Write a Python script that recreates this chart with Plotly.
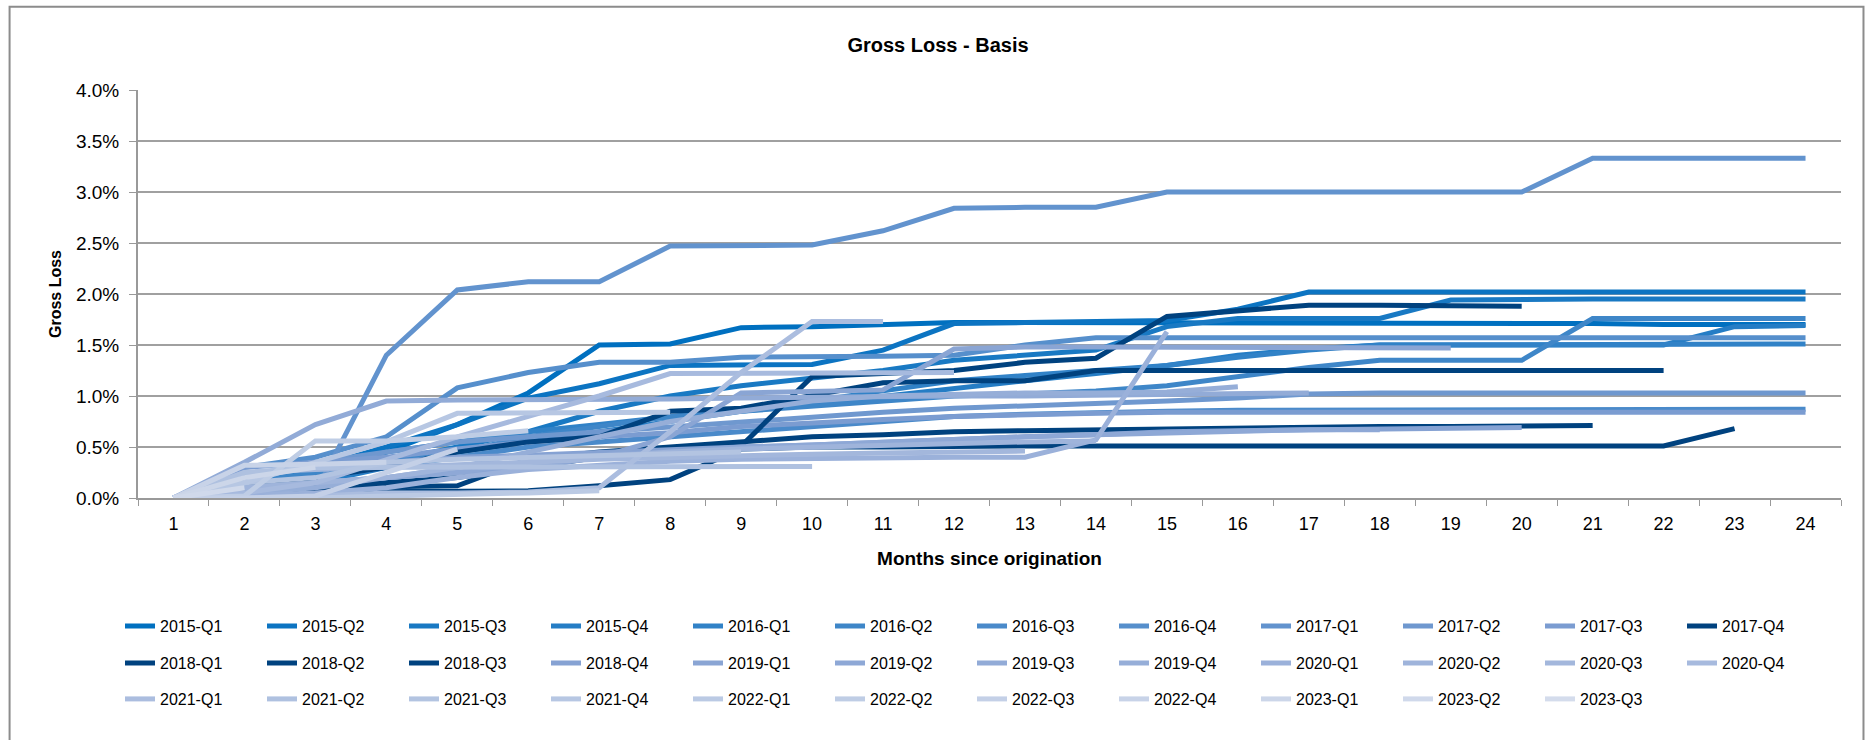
import plotly.graph_objects as go

months = [str(m) for m in range(1, 25)]

vintages = ["2015-Q1", "2015-Q2", "2015-Q3", "2015-Q4", "2016-Q1", "2016-Q2", "2016-Q3",
            "2016-Q4", "2017-Q1", "2017-Q2", "2017-Q3", "2017-Q4", "2018-Q1", "2018-Q2",
            "2018-Q3", "2018-Q4", "2019-Q1", "2019-Q2", "2019-Q3", "2019-Q4", "2020-Q1",
            "2020-Q2", "2020-Q3", "2020-Q4", "2021-Q1", "2021-Q2", "2021-Q3", "2021-Q4",
            "2022-Q1", "2022-Q2", "2022-Q3", "2022-Q4", "2023-Q1", "2023-Q2", "2023-Q3"]

# Gross loss in percent, one list per vintage (months since origination 1..n)
v2015_q1 = [0, 0.12, 0.25, 0.45, 0.72, 1.03, 1.50, 1.51, 1.67, 1.68, 1.70, 1.72, 1.72, 1.72, 1.72, 1.72, 1.72, 1.72, 1.71, 1.71, 1.71, 1.70, 1.70, 1.70]
v2015_q2 = [0, 0.15, 0.30, 0.50, 0.72, 0.98, 1.12, 1.30, 1.31, 1.31, 1.45, 1.71, 1.72, 1.73, 1.74, 1.85, 2.02, 2.02, 2.02, 2.02, 2.02, 2.02, 2.02, 2.02]
v2015_q3 = [0, 0.10, 0.20, 0.35, 0.50, 0.65, 0.85, 1.00, 1.10, 1.18, 1.25, 1.35, 1.40, 1.45, 1.68, 1.76, 1.76, 1.76, 1.94, 1.95, 1.95, 1.95, 1.95, 1.95]
v2015_q4 = [0, 0.05, 0.15, 0.30, 0.45, 0.55, 0.65, 0.75, 0.85, 0.92, 1.00, 1.08, 1.15, 1.22, 1.30, 1.40, 1.46, 1.50, 1.50, 1.50, 1.50, 1.50, 1.68, 1.69]
v2016_q1 = [0, 0.20, 0.30, 0.45, 0.55, 0.65, 0.72, 0.80, 0.88, 0.95, 1.05, 1.15, 1.20, 1.25, 1.30, 1.38, 1.45, 1.50, 1.50, 1.50, 1.50, 1.50, 1.51, 1.51]
v2016_q2 = [0, 0.15, 0.25, 0.35, 0.45, 0.60, 0.70, 0.80, 0.85, 0.90, 0.95, 1.00, 1.02, 1.05, 1.10, 1.19, 1.28, 1.35, 1.35, 1.35, 1.76, 1.76, 1.76, 1.76]
v2016_q3 = [0, 0.10, 0.20, 0.30, 0.40, 0.50, 0.55, 0.60, 0.65, 0.70, 0.75, 0.80, 0.82, 0.84, 0.85, 0.86, 0.86, 0.86, 0.87, 0.87, 0.87, 0.87, 0.87, 0.87]
v2016_q4 = [0, 0.30, 0.40, 0.60, 1.08, 1.23, 1.33, 1.33, 1.38, 1.38, 1.39, 1.40, 1.50, 1.57, 1.57, 1.57, 1.57, 1.57, 1.57, 1.57, 1.57, 1.57, 1.57, 1.57]
v2017_q1 = [0, 0.02, 0.05, 1.40, 2.04, 2.12, 2.12, 2.47, 2.48, 2.48, 2.62, 2.84, 2.85, 2.85, 3.00, 3.00, 3.00, 3.00, 3.00, 3.00, 3.33, 3.33, 3.33, 3.33]
v2017_q2 = [0, 0.20, 0.35, 0.45, 0.55, 0.60, 0.65, 0.70, 0.75, 0.80, 0.84, 0.88, 0.90, 0.92, 0.95, 0.98, 1.02, 1.03, 1.03, 1.03, 1.03, 1.03, 1.03, 1.03]
v2017_q3 = [0, 0.30, 0.35, 0.40, 0.48, 0.55, 0.60, 0.64, 0.70, 0.74, 0.77, 0.80, 0.82, 0.83, 0.84, 0.84, 0.84, 0.84, 0.84, 0.84, 0.84, 0.84, 0.84, 0.84]
v2017_q4 = [0, 0.05, 0.06, 0.06, 0.07, 0.07, 0.12, 0.18, 0.48, 0.50, 0.50, 0.51, 0.51, 0.51, 0.51, 0.51, 0.51, 0.51, 0.51, 0.51, 0.51, 0.51, 0.68]
v2018_q1 = [0, 0.10, 0.20, 0.30, 0.45, 0.55, 0.60, 0.85, 0.88, 1.00, 1.13, 1.15, 1.15, 1.25, 1.25, 1.25, 1.25, 1.25, 1.25, 1.25, 1.25, 1.25]
v2018_q2 = [0, 0.10, 0.10, 0.11, 0.12, 0.38, 0.45, 0.50, 0.55, 0.60, 0.62, 0.65, 0.66, 0.67, 0.68, 0.69, 0.70, 0.70, 0.70, 0.71, 0.71]
v2018_q3 = [0, 0.05, 0.10, 0.15, 0.20, 0.30, 0.40, 0.45, 0.51, 1.19, 1.22, 1.25, 1.33, 1.37, 1.78, 1.84, 1.89, 1.89, 1.89, 1.88]
v2018_q4 = [0, 0.20, 0.30, 0.35, 0.40, 0.42, 0.45, 0.48, 0.50, 0.52, 0.55, 0.58, 0.60, 0.62, 0.65, 0.66, 0.67, 0.68, 0.69, 0.69]
v2019_q1 = [0, 0.10, 0.15, 0.20, 0.25, 0.30, 0.40, 0.60, 1.03, 1.04, 1.06, 1.46, 1.48, 1.48, 1.48, 1.48, 1.48, 1.48, 1.47]
v2019_q2 = [0, 0.10, 0.15, 0.20, 0.25, 0.35, 0.42, 0.45, 0.50, 0.52, 0.55, 0.58, 0.60, 0.62, 0.64, 0.66, 0.67, 0.67]
v2019_q3 = [0, 0.35, 0.72, 0.95, 0.96, 0.96, 0.96, 0.97, 0.98, 0.99, 1.00, 1.00, 1.00, 1.01, 1.02, 1.02, 1.03]
v2019_q4 = [0, 0.05, 0.10, 0.20, 0.30, 0.45, 0.60, 0.75, 0.85, 0.95, 1.00, 1.02, 1.03, 1.03, 1.04, 1.09]
v2020_q1 = [0, 0.02, 0.05, 0.10, 0.20, 0.28, 0.32, 0.36, 0.38, 0.39, 0.40, 0.40, 0.40, 0.57, 1.63]
v2020_q2 = [0, 0.10, 0.15, 0.20, 0.30, 0.35, 0.40, 0.45, 0.48, 0.50, 0.52, 0.54, 0.55, 0.56]
v2020_q3 = [0, 0.25, 0.28, 0.30, 0.32, 0.35, 0.38, 0.40, 0.42, 0.43, 0.44, 0.45, 0.46]
v2020_q4 = [0, 0.05, 0.15, 0.37, 0.60, 0.80, 1.00, 1.22, 1.22, 1.23, 1.23, 1.23]
v2021_q1 = [0, 0.00, 0.02, 0.05, 0.05, 0.06, 0.10, 0.65, 1.23, 1.73, 1.73]
v2021_q2 = [0, 0.25, 0.30, 0.30, 0.30, 0.30, 0.30, 0.31, 0.31, 0.31]
v2021_q3 = [0, 0.15, 0.20, 0.35, 0.38, 0.40, 0.42, 0.44, 0.45]
v2021_q4 = [0, 0.15, 0.35, 0.55, 0.83, 0.83, 0.84, 0.84]
v2022_q1 = [0, 0.00, 0.00, 0.02, 0.03, 0.05, 0.07]
v2022_q2 = [0, 0.02, 0.56, 0.56, 0.60, 0.66]
v2022_q3 = [0, 0.00, 0.02, 0.25, 0.48]
v2022_q4 = [0, 0.32, 0.33, 0.35]
v2023_q1 = [0, 0.20, 0.30]
v2023_q2 = [0, 0.10]
v2023_q3 = [0]

series = [v2015_q1, v2015_q2, v2015_q3, v2015_q4, v2016_q1, v2016_q2, v2016_q3, v2016_q4,
          v2017_q1, v2017_q2, v2017_q3, v2017_q4, v2018_q1, v2018_q2, v2018_q3, v2018_q4,
          v2019_q1, v2019_q2, v2019_q3, v2019_q4, v2020_q1, v2020_q2, v2020_q3, v2020_q4,
          v2021_q1, v2021_q2, v2021_q3, v2021_q4, v2022_q1, v2022_q2, v2022_q3, v2022_q4,
          v2023_q1, v2023_q2, v2023_q3]

y_ticks = [0, 0.5, 1.0, 1.5, 2.0, 2.5, 3.0, 3.5, 4.0]


def lerp_color(c1, c2, t):
    a = [int(c1[i:i + 2], 16) for i in (1, 3, 5)]
    b = [int(c2[i:i + 2], 16) for i in (1, 3, 5)]
    return "#" + "".join(f"{round(a[k] + (b[k] - a[k]) * t):02X}" for k in range(3))


colors = []
for i in range(11):
    colors.append(lerp_color("#0070C0", "#7B9CD1", i / 10))
for i in range(4):
    colors.append("#00427F")
for i in range(20):
    colors.append(lerp_color("#86A2D3", "#D4DCEC", i / 19))

FONT = "Liberation Sans"
W, H = 1870, 740
L, R, T, B = 137.5, 28.5, 89.5, 241.5
pw = W - L - R
ph = H - T - B

legend_ids = ["legend", "legend2", "legend3"]
fig = go.Figure()
for idx, (name, vals, col) in enumerate(zip(vintages, series, colors)):
    fig.add_trace(go.Scatter(
        x=months[:len(vals)], y=vals, name=name, mode="lines",
        line=dict(color=col, width=5),
        legend=legend_ids[idx // 12],
    ))

row_centers = [627, 664, 700]
legend_common = dict(orientation="h", x=(119.5 - L) / pw, xanchor="left", yanchor="middle",
                     font=dict(family=FONT, size=16, color="black"),
                     entrywidth=97, entrywidthmode="pixels", itemwidth=30,
                     bgcolor="rgba(0,0,0,0)", borderwidth=0)
legends = {}
for lid, yc in zip(legend_ids, row_centers):
    legends[lid] = dict(legend_common, y=1 - (yc - T) / ph)

fig.update_layout(
    width=W, height=H,
    paper_bgcolor="white", plot_bgcolor="white",
    margin=dict(l=L, r=R, t=T, b=B, autoexpand=False),
    title=dict(text="<b>Gross Loss - Basis</b>", x=938 / W, xanchor="center",
               y=1 - 45 / H, yanchor="middle",
               font=dict(family=FONT, size=20, color="black")),
    font=dict(family=FONT, color="black"),
    showlegend=True,
    **legends,
    xaxis=dict(type="category", categoryorder="array", categoryarray=months,
               range=[-0.5, 23.5], autorange=False,
               tickson="boundaries", ticks="outside", ticklen=6, tickcolor="#999999",
               ticklabelstandoff=8,
               showline=True, linecolor="#999999", linewidth=2, showgrid=False,
               tickfont=dict(family=FONT, size=18, color="black"),
               title=dict(text="<b>Months since origination</b>", standoff=19,
                          font=dict(family=FONT, size=19, color="black"))),
    yaxis=dict(range=[0, 4.0], tickvals=y_ticks, ticktext=[f"{v:.1f}%" for v in y_ticks],
               ticks="outside", ticklen=7, tickcolor="#999999", ticklabelstandoff=6,
               showline=True, linecolor="#999999", linewidth=2,
               showgrid=True, gridcolor="#A0A0A0", gridwidth=2, zeroline=False,
               tickfont=dict(family=FONT, size=19, color="black"),
               title=dict(text="<b>Gross Loss</b>", standoff=10,
                          font=dict(family=FONT, size=16, color="black"))),
)

# outer chart border
fig.add_shape(type="rect", xref="paper", yref="paper",
              x0=(9 - L) / pw, x1=(1864 - L) / pw, y0=-(745 - (T + ph)) / ph, y1=1 + (T - 6) / ph,
              line=dict(color="#8C8C8C", width=2), fillcolor="rgba(0,0,0,0)", layer="below")

fig.write_html("out.html", config={"displayModeBar": False},
               post_script="document.body.style.margin='0';")
